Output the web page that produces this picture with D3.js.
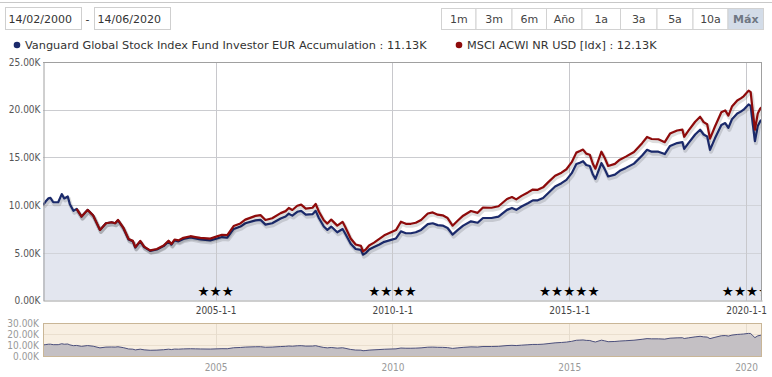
<!DOCTYPE html>
<html><head><meta charset="utf-8">
<script src="https://cdn.jsdelivr.net/npm/d3@7"></script>
<style>
body{margin:0;background:#fff;}
svg{display:block;font-family:"DejaVu Sans Condensed","DejaVu Sans",sans-serif;}
</style>
</head><body>
<svg id="chart" width="772" height="377"></svg>
<script>
// ---------------- DATA ----------------
const dates = [
 2000.12,2000.2,2000.27,2000.33,2000.41,2000.55,2000.65,2000.72,2000.82,2000.88,2000.98,
 2001.07,2001.21,2001.38,2001.54,2001.73,2001.90,
 2002.06,2002.16,2002.24,2002.39,2002.54,2002.66,2002.73,2002.87,2002.98,
 2003.15,2003.34,2003.53,2003.67,2003.75,2003.84,2003.95,
 2004.09,2004.29,2004.43,2004.57,2004.85,
 2005.04,2005.18,2005.33,2005.51,2005.70,2005.84,
 2006.13,2006.27,2006.41,2006.60,2006.84,2006.98,
 2007.07,2007.17,2007.31,2007.42,2007.55,2007.74,2007.83,2007.92,
 2008.06,2008.16,2008.27,2008.44,2008.59,2008.66,2008.82,2008.96,
 2009.11,2009.17,2009.25,2009.34,2009.48,2009.62,2009.77,2009.96,
 2010.10,2010.24,2010.38,2010.52,2010.66,2010.81,
 2011.00,2011.14,2011.28,2011.42,2011.56,2011.70,2011.85,
 2012.00,2012.22,2012.41,2012.56,2012.80,
 2013.00,2013.24,2013.38,2013.50,2013.65,2013.83,2013.97,
 2014.11,2014.26,2014.40,2014.60,2014.78,2014.92,
 2015.07,2015.20,2015.30,2015.39,2015.48,2015.58,2015.67,2015.74,2015.91,
 2016.00,2016.10,2016.29,2016.43,2016.60,2016.83,
 2017.06,2017.20,2017.33,2017.52,2017.70,2017.85,
 2018.05,2018.20,2018.25,2018.37,2018.56,2018.70,2018.80,2018.90,2018.98,
 2019.12,2019.30,2019.41,2019.50,2019.60,2019.75,2019.85,2019.93,
 2020.07,2020.13,2020.19,2020.25,2020.33,2020.40,2020.45
];
// values in thousands
const vanguard = [
 10.0,10.4,10.7,10.75,10.3,10.3,11.15,10.7,10.9,10.1,9.4,
 9.6,8.8,9.5,8.9,7.4,8.1,
 8.2,8.1,8.4,7.6,6.4,6.2,5.55,6.2,5.6,
 5.2,5.35,5.7,6.2,5.85,6.3,6.2,
 6.45,6.6,6.5,6.4,6.3,
 6.5,6.65,6.6,7.5,7.75,8.1,
 8.4,8.45,7.95,8.1,8.6,8.8,
 9.1,8.9,9.3,9.4,9.0,9.05,9.4,8.65,
 7.75,7.4,7.75,7.15,7.5,7.05,5.95,5.4,
 5.3,4.8,5.0,5.35,5.6,5.85,6.15,6.35,
 6.5,7.25,7.05,7.05,7.15,7.4,
 8.0,8.1,7.9,7.85,7.6,6.9,7.4,
 7.85,8.3,8.15,8.65,8.65,
 8.8,9.5,9.7,9.5,9.85,10.2,10.5,
 10.5,10.75,11.25,11.95,12.3,12.65,
 13.35,14.3,14.45,14.6,14.2,14.1,13.2,12.75,14.4,
 13.8,13.0,13.2,13.6,13.9,14.35,
 15.2,15.8,15.6,15.6,15.35,16.2,
 16.5,16.6,15.9,16.5,17.4,17.9,17.4,17.2,15.8,
 17.0,18.4,18.6,18.1,19.0,19.6,19.8,20.0,
 20.55,20.4,18.5,16.7,18.3,18.8,18.95
];
const msci = [
 null,null,null,null,null,null,null,null,null,null,null,
 9.6,8.8,9.5,8.9,7.4,8.1,
 8.2,8.1,8.45,7.65,6.45,6.25,5.6,6.25,5.65,
 5.25,5.4,5.76,6.27,5.92,6.39,6.3,
 6.57,6.74,6.65,6.56,6.49,
 6.72,6.89,6.85,7.8,8.08,8.48,
 8.87,8.95,8.44,8.62,9.16,9.37,
 9.7,9.49,9.93,10.05,9.63,9.72,10.12,9.33,
 8.41,8.06,8.48,7.85,8.25,7.75,6.5,5.87,
 5.73,5.15,5.37,5.77,6.07,6.44,6.83,7.15,
 7.38,8.26,8.04,8.04,8.15,8.44,
 9.12,9.23,9.0,8.93,8.64,7.84,8.39,
 8.89,9.38,9.19,9.74,9.72,
 9.88,10.64,10.85,10.6,10.97,11.33,11.63,
 11.6,11.86,12.38,13.07,13.4,13.76,
 14.5,15.5,15.66,15.82,15.39,15.28,14.31,13.82,15.6,
 14.97,14.1,14.32,14.76,15.08,15.57,
 16.49,17.14,16.93,16.9,16.6,17.5,
 17.82,17.91,17.16,17.8,18.74,19.26,18.7,18.48,16.97,
 18.24,19.73,19.93,19.38,20.33,20.97,21.19,21.4,
 22.0,21.83,19.8,17.9,19.6,20.12,20.28
];
const seriesNames = ["Vanguard Global Stock Index Fund Investor EUR Accumulation","MSCI ACWI NR USD [Idx]"];
const legendValues = ["11.13K","12.13K"];
const yTicks = [0,5,10,15,20,25];
const navYTicks = [0,10,20,30];
const xTickYears = [2005,2010,2015,2020];
const xTickLabels = ["2005-1-1","2010-1-1","2015-1-1","2020-1-1"];
const navTickLabels = ["2005","2010","2015","2020"];
const starRatings = [3,4,5,4];
const rangeButtons = ["1m","3m","6m","Año","1a","3a","5a","10a","Máx"];
const dateRange = ["14/02/2000","14/06/2020"];
const domainStart = 2000.12, domainEnd = 2020.45;

// ---------------- LAYOUT ----------------
const svg = d3.select("#chart");
const P = {l:43, r:762, t:62, b:300.5};
const N = {t:323, b:356};
const blue = "#1b2a6b", red = "#8e0b0b";
const uiFont = "DejaVu Sans";

const x = d3.scaleLinear().domain([domainStart, domainEnd]).range([P.l, P.r]);
const y = d3.scaleLinear().domain([0, 25]).range([P.b, P.t]);
const yN = d3.scaleLinear().domain([0, 30]).range([N.b, N.t]);

// top separator line
svg.append("line").attr("x1",0).attr("x2",772).attr("y1",2.5).attr("y2",2.5).attr("stroke","#c8c8c8");

// date inputs
const boxes = [{x:5,w:76},{x:94,w:76}];
boxes.forEach((b,i)=>{
  svg.append("rect").attr("x",b.x+0.5).attr("y",7.5).attr("width",b.w).attr("height",22)
    .attr("fill","#fff").attr("stroke","#cfcfcf");
  svg.append("text").attr("x",b.x+3.5).attr("y",22.5).attr("font-size",11).attr("font-family",uiFont)
    .attr("fill","#333").text(dateRange[i]);
});
svg.append("text").attr("x",87.5).attr("y",22.5).attr("text-anchor","middle").attr("font-size",11)
  .attr("font-family",uiFont).attr("fill","#333").text("-");

// range buttons
const btnEdges = [441.5,476,512,546.5,582,620.5,657,693,728,763.5];
rangeButtons.forEach((lab,i)=>{
  const x0 = btnEdges[i], x1 = btnEdges[i+1];
  const sel = i===rangeButtons.length-1;
  svg.append("rect").attr("x",x0).attr("y",8.5).attr("width",x1-x0).attr("height",21)
    .attr("fill",sel?"#d3dce8":"#fff").attr("stroke","#d2d2d2");
  svg.append("text").attr("x",(x0+x1)/2).attr("y",23).attr("text-anchor","middle")
    .attr("font-size",11).attr("font-family",uiFont).attr("font-weight",sel?"bold":"normal")
    .attr("fill",sel?"#6f7783":"#444").text(lab);
});

// legend
const legX = [17, 459];
[blue, red].forEach((c,i)=>{
  svg.append("circle").attr("cx",legX[i]).attr("cy",45).attr("r",3.3).attr("fill",c);
  svg.append("text").attr("x",legX[i]+8).attr("y",49).attr("font-size",11.3).attr("font-family",uiFont)
    .attr("fill","#333").text(seriesNames[i]+" : "+legendValues[i]);
});

// clip
svg.append("clipPath").attr("id","plotclip").append("rect")
  .attr("x",P.l).attr("y",P.t).attr("width",P.r-P.l).attr("height",P.b-P.t);

// horizontal grid
svg.append("g").selectAll("line").data(yTicks.filter(d=>d>0&&d<25)).join("line")
  .attr("x1",P.l).attr("x2",P.r).attr("y1",d=>Math.round(y(d))+0.5).attr("y2",d=>Math.round(y(d))+0.5)
  .attr("stroke","#d0d0d0");

// area under first series
const pts = dates.map((d,i)=>({t:d, a:vanguard[i], b:msci[i]}));
const area = d3.area().x(d=>x(d.t)).y0(y(0)).y1(d=>y(d.a));
svg.append("path").datum(pts).attr("d",area).attr("fill","#e3e6ef").attr("clip-path","url(#plotclip)");

// vertical grid (drawn over area)
svg.append("g").selectAll("line").data(xTickYears).join("line")
  .attr("x1",d=>Math.round(x(d))+0.5).attr("x2",d=>Math.round(x(d))+0.5).attr("y1",P.t).attr("y2",P.b)
  .attr("stroke","#c8c8cc");
svg.append("g").selectAll("line").data(yTicks.filter(d=>d>0&&d<25)).join("line")
  .attr("x1",P.l).attr("x2",P.r).attr("y1",d=>Math.round(y(d))+0.5).attr("y2",d=>Math.round(y(d))+0.5)
  .attr("stroke","#c9cad0").attr("stroke-opacity",0.7);

// lines with shadows
const lineA = d3.line().x(d=>x(d.t)).y(d=>y(d.a));
const lineB = d3.line().defined(d=>d.b!=null).x(d=>x(d.t)).y(d=>y(d.b));
const g = svg.append("g").attr("clip-path","url(#plotclip)");
[[lineA,blue],[lineB,red]].forEach(([ln,c])=>{
  g.append("path").datum(pts).attr("d",ln).attr("fill","none").attr("stroke","rgba(0,0,0,0.13)")
    .attr("stroke-width",4).attr("transform","translate(1,2)").attr("stroke-linejoin","round");
  g.append("path").datum(pts).attr("d",ln).attr("fill","none").attr("stroke",c)
    .attr("stroke-width",2.2).attr("stroke-linejoin","round");
});

// star ratings
g.selectAll("text.star").data(xTickYears).join("text").attr("class","star")
  .attr("x",d=>x(d)).attr("y",296).attr("text-anchor","middle").attr("font-size",13.5)
  .attr("font-family","DejaVu Sans").attr("fill","#000")
  .text((d,i)=>"★".repeat(starRatings[i]));

// frame
svg.append("line").attr("x1",P.l).attr("x2",P.r).attr("y1",P.t+0.5).attr("y2",P.t+0.5).attr("stroke","#a0a0a0");
svg.append("line").attr("x1",P.r-0.5).attr("x2",P.r-0.5).attr("y1",P.t).attr("y2",P.b).attr("stroke","#a0a0a0");

// y axis
const yAxis = svg.append("g").attr("transform",`translate(${P.l+0.5},0)`)
  .call(d3.axisLeft(y).tickValues(yTicks).tickSize(0).tickPadding(3).tickFormat(d=>d.toFixed(2)+"K"));
yAxis.select(".domain").attr("stroke","#a0a0a0");
yAxis.selectAll("text").attr("font-size",10).attr("fill","#555").attr("font-family","DejaVu Sans Condensed");

// x axis
const xAxis = svg.append("g").attr("transform",`translate(0,${P.b})`)
  .call(d3.axisBottom(x).tickValues(xTickYears).tickSize(0).tickPadding(6).tickFormat((d,i)=>xTickLabels[i]));
xAxis.select(".domain").attr("stroke","#a0a0a0");
xAxis.selectAll("text").attr("font-size",10).attr("fill","#444").attr("font-family","DejaVu Sans Condensed");

// ---------------- NAVIGATOR ----------------
svg.append("rect").attr("x",P.l+0.5).attr("y",N.t+0.5).attr("width",P.r-P.l-1).attr("height",N.b-N.t)
  .attr("fill","#f8efe2").attr("stroke","none");
svg.append("g").selectAll("line").data(navYTicks.filter(d=>d>0&&d<30)).join("line")
  .attr("x1",P.l).attr("x2",P.r).attr("y1",d=>Math.round(yN(d))+0.5).attr("y2",d=>Math.round(yN(d))+0.5)
  .attr("stroke","#eadfcf");
svg.append("g").selectAll("line").data(xTickYears).join("line")
  .attr("x1",d=>Math.round(x(d))+0.5).attr("x2",d=>Math.round(x(d))+0.5).attr("y1",N.t).attr("y2",N.b)
  .attr("stroke","#e6dccd");
const areaN = d3.area().x(d=>x(d.t)).y0(yN(0)).y1(d=>yN(d.a));
const lineN = d3.line().x(d=>x(d.t)).y(d=>yN(d.a));
svg.append("path").datum(pts).attr("d",areaN).attr("fill","#c4c0c4");
svg.append("path").datum(pts).attr("d",lineN).attr("fill","none").attr("stroke","#4b4f7c").attr("stroke-width",1);
svg.append("rect").attr("x",P.l+0.5).attr("y",N.t+0.5).attr("width",P.r-P.l-1).attr("height",N.b-N.t)
  .attr("fill","none").attr("stroke","#c9b697");

const nyAxis = svg.append("g").attr("transform",`translate(${P.l},0)`)
  .call(d3.axisLeft(yN).tickValues(navYTicks).tickSize(0).tickPadding(4).tickFormat(d=>d.toFixed(2)+"K"));
nyAxis.select(".domain").remove();
nyAxis.selectAll("text").attr("font-size",10).attr("fill","#999").attr("font-family","DejaVu Sans Condensed");

const nxAxis = svg.append("g").attr("transform",`translate(0,${N.b})`)
  .call(d3.axisBottom(x).tickValues(xTickYears).tickSize(0).tickPadding(8).tickFormat((d,i)=>navTickLabels[i]));
nxAxis.select(".domain").remove();
nxAxis.selectAll("text").attr("font-size",10).attr("fill","#999").attr("font-family","DejaVu Sans Condensed");
</script>
</body></html>
